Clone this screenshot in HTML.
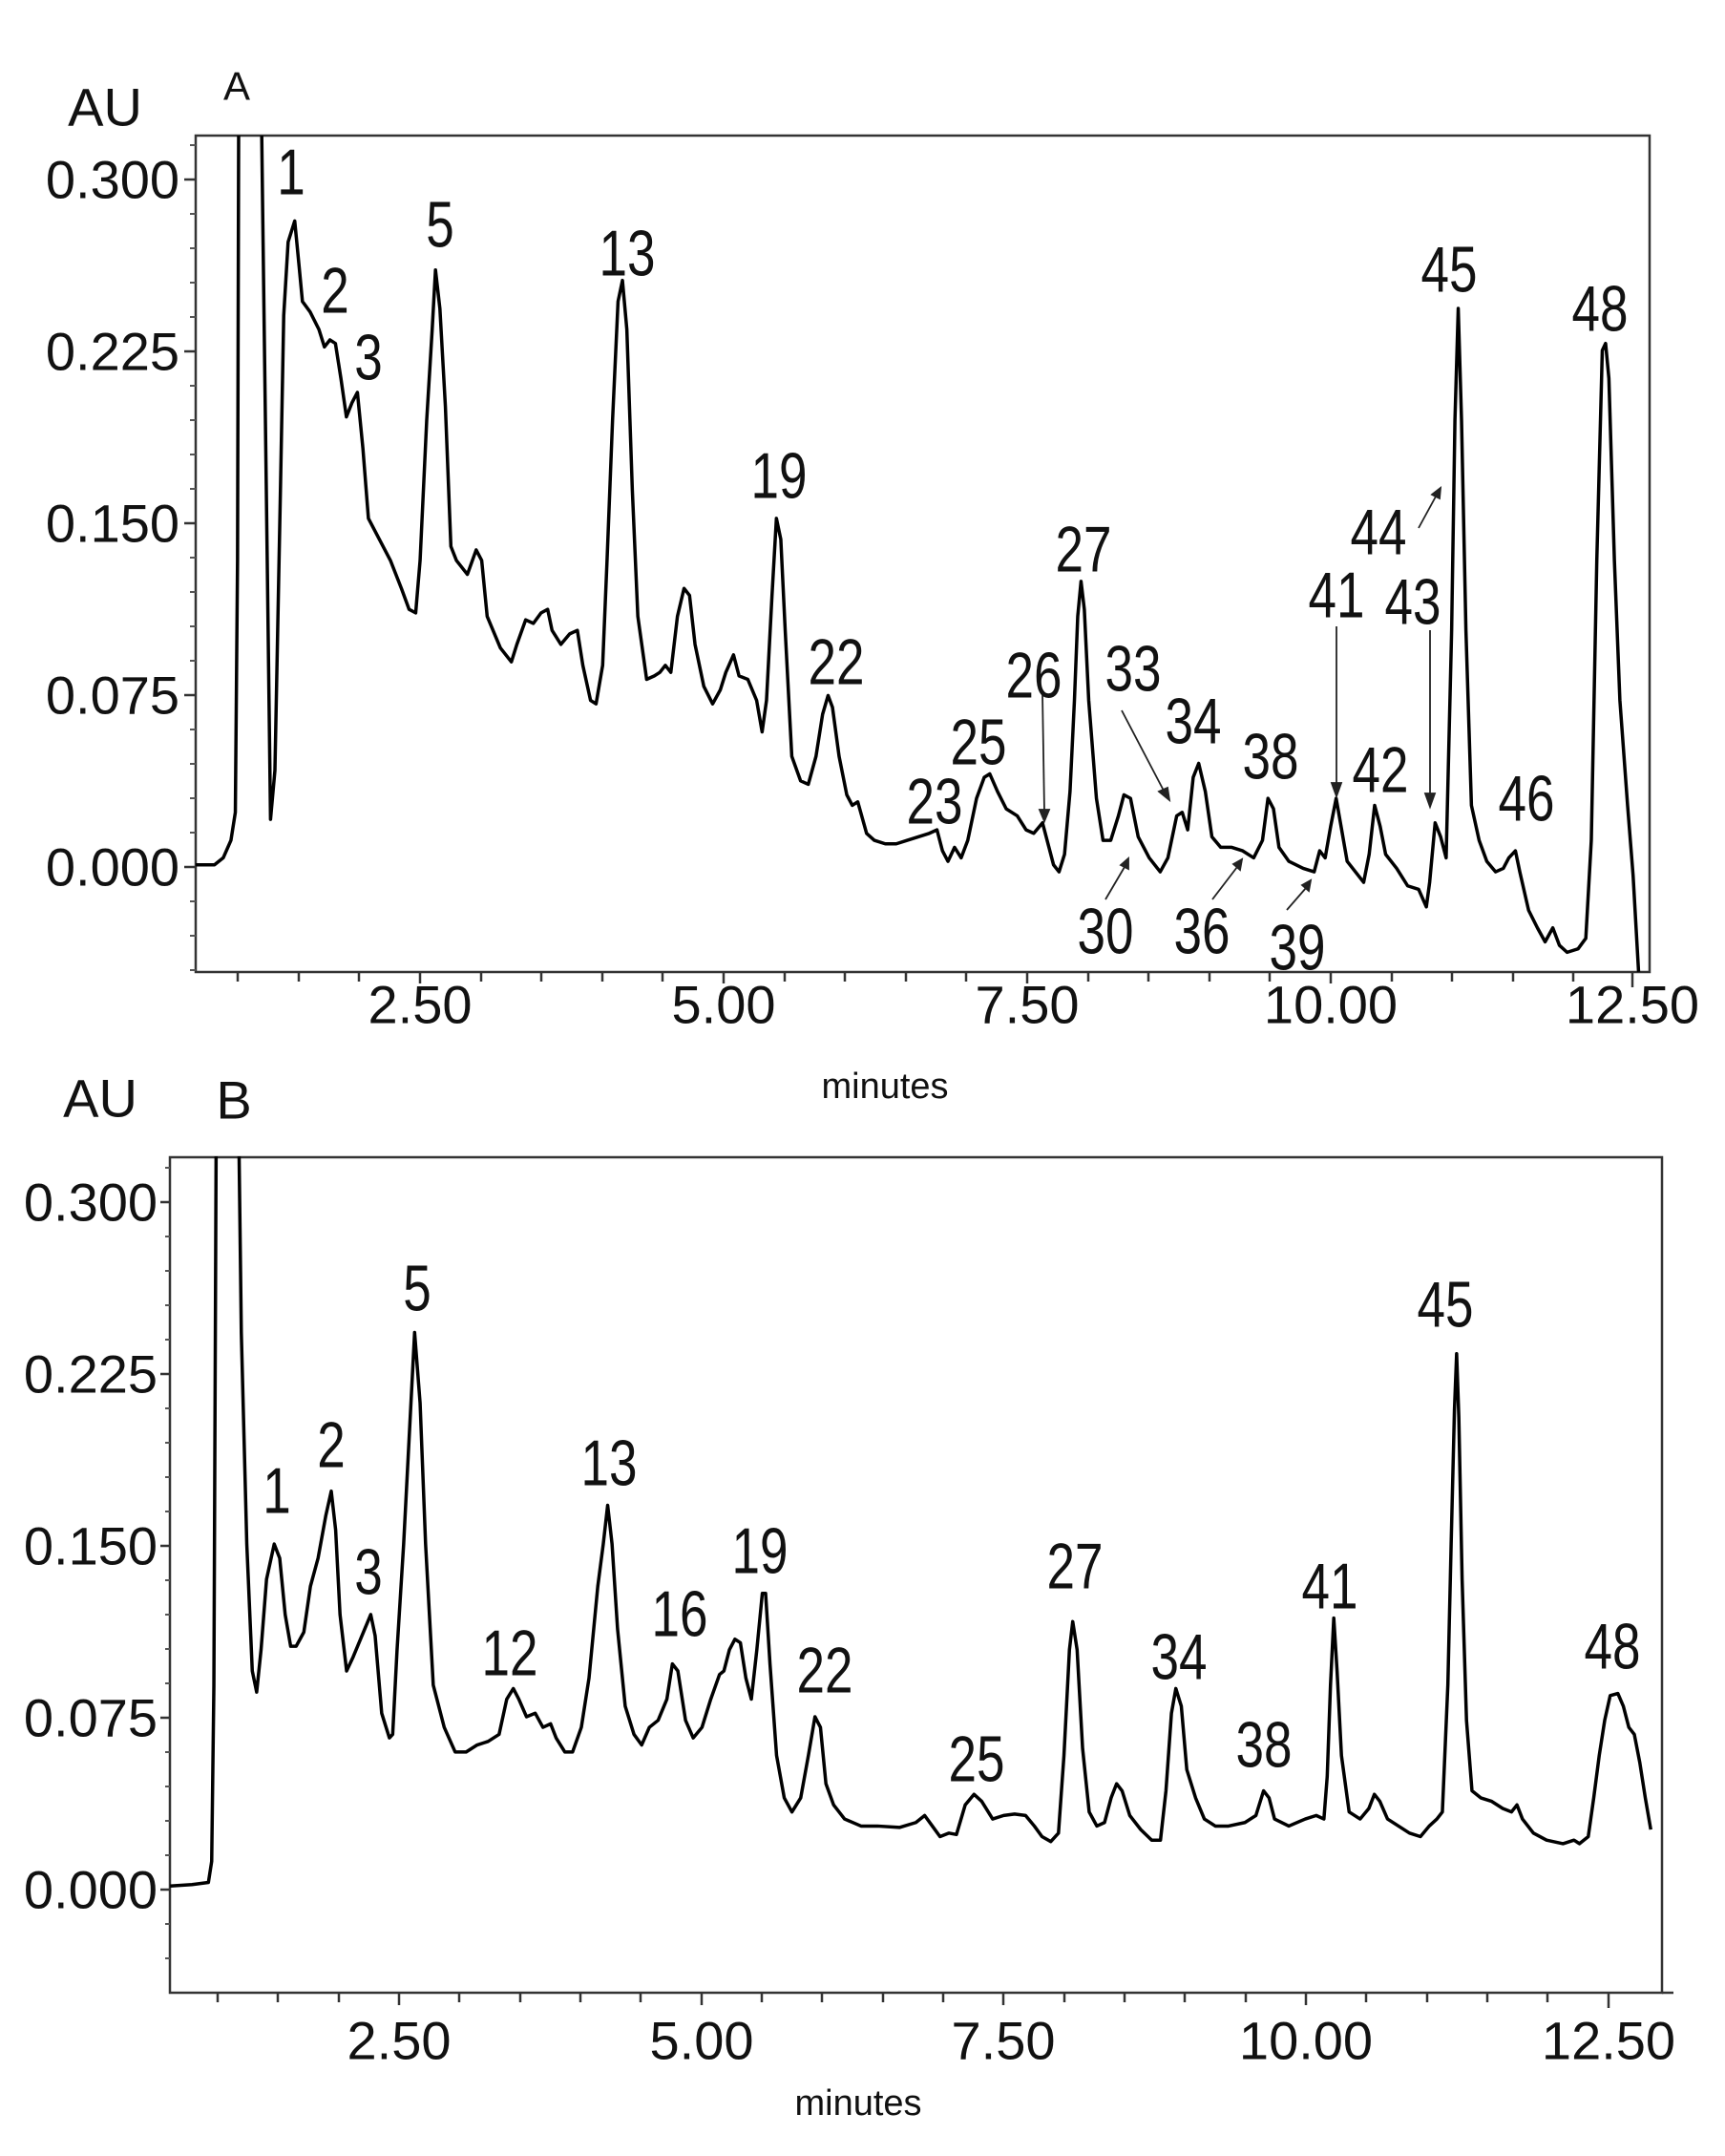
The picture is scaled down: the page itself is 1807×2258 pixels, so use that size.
<!DOCTYPE html>
<html><head><meta charset="utf-8"><style>
html,body{margin:0;padding:0;background:#fff;}
svg{display:block;}
text{font-family:"Liberation Sans",Arial,sans-serif;fill:#111;}
.t{font-size:56px;}
.pl{font-size:68px;}
</style></head><body>
<svg width="1807" height="2258" viewBox="0 0 1807 2258" xmlns="http://www.w3.org/2000/svg">
<!-- ========== PANEL A ========== -->
<rect x="205" y="142" width="1523" height="876" fill="none" stroke="#333" stroke-width="2.5"/>
<g stroke="#333" stroke-width="2.5">
<line x1="193" y1="188" x2="205" y2="188"/><line x1="193" y1="368" x2="205" y2="368"/><line x1="193" y1="548" x2="205" y2="548"/><line x1="193" y1="728" x2="205" y2="728"/><line x1="193" y1="908" x2="205" y2="908"/>
</g>
<g stroke="#555" stroke-width="2">
<line x1="199" y1="152" x2="205" y2="152"/><line x1="199" y1="224" x2="205" y2="224"/><line x1="199" y1="260" x2="205" y2="260"/><line x1="199" y1="296" x2="205" y2="296"/><line x1="199" y1="332" x2="205" y2="332"/>
<line x1="199" y1="404" x2="205" y2="404"/><line x1="199" y1="440" x2="205" y2="440"/><line x1="199" y1="476" x2="205" y2="476"/><line x1="199" y1="512" x2="205" y2="512"/>
<line x1="199" y1="584" x2="205" y2="584"/><line x1="199" y1="620" x2="205" y2="620"/><line x1="199" y1="656" x2="205" y2="656"/><line x1="199" y1="692" x2="205" y2="692"/>
<line x1="199" y1="764" x2="205" y2="764"/><line x1="199" y1="800" x2="205" y2="800"/><line x1="199" y1="836" x2="205" y2="836"/><line x1="199" y1="872" x2="205" y2="872"/>
<line x1="199" y1="944" x2="205" y2="944"/><line x1="199" y1="980" x2="205" y2="980"/><line x1="199" y1="1016" x2="205" y2="1016"/>
</g>
<g stroke="#333" stroke-width="2.5">
<line x1="249" y1="1018" x2="249" y2="1028"/><line x1="313" y1="1018" x2="313" y2="1028"/><line x1="376" y1="1018" x2="376" y2="1028"/><line x1="440" y1="1018" x2="440" y2="1030"/>
<line x1="504" y1="1018" x2="504" y2="1028"/><line x1="567" y1="1018" x2="567" y2="1028"/><line x1="631" y1="1018" x2="631" y2="1028"/><line x1="694" y1="1018" x2="694" y2="1028"/><line x1="758" y1="1018" x2="758" y2="1030"/>
<line x1="822" y1="1018" x2="822" y2="1028"/><line x1="885" y1="1018" x2="885" y2="1028"/><line x1="949" y1="1018" x2="949" y2="1028"/><line x1="1012" y1="1018" x2="1012" y2="1028"/><line x1="1076" y1="1018" x2="1076" y2="1030"/>
<line x1="1140" y1="1018" x2="1140" y2="1028"/><line x1="1203" y1="1018" x2="1203" y2="1028"/><line x1="1267" y1="1018" x2="1267" y2="1028"/><line x1="1330" y1="1018" x2="1330" y2="1028"/><line x1="1394" y1="1018" x2="1394" y2="1030"/>
<line x1="1458" y1="1018" x2="1458" y2="1028"/><line x1="1521" y1="1018" x2="1521" y2="1028"/><line x1="1585" y1="1018" x2="1585" y2="1028"/><line x1="1648" y1="1018" x2="1648" y2="1028"/><line x1="1710" y1="1018" x2="1710" y2="1034"/>
</g>
<g class="t" text-anchor="end" dominant-baseline="central">
<text x="188" y="188">0.300</text><text x="188" y="368">0.225</text><text x="188" y="548">0.150</text><text x="188" y="728">0.075</text><text x="188" y="908">0.000</text>
</g>
<g class="t" text-anchor="middle" dominant-baseline="central">
<text x="440" y="1052">2.50</text><text x="758" y="1052">5.00</text><text x="1076" y="1052">7.50</text><text x="1394" y="1052">10.00</text><text x="1710" y="1052">12.50</text>
</g>
<text x="110" y="112" class="t" text-anchor="middle" dominant-baseline="central">AU</text>
<text x="248" y="90" style="font-size:42px" text-anchor="middle" dominant-baseline="central">A</text>
<text x="927" y="1138" style="font-size:38px" text-anchor="middle" dominant-baseline="central">minutes</text>

<g transform="matrix(1.152,0,0,0.733,0,0.5)" fill="none" stroke="#000" stroke-width="3.5" stroke-linejoin="round">
<polyline vector-effect="non-scaling-stroke" points="178,1235 195,1235 203,1225 210,1200 214,1160 216,800 217,193"/>
<polyline vector-effect="non-scaling-stroke" points="238,193 239,318 243,800 246,1170 250,1100 255,700 258,450 262,345 268,315 272,380 275,430 282,445 290,470 295,495 300,485 305,490 310,540 315,595 320,575 325,560 330,640 335,740 345,770 355,800 365,840 372,870 378,875 382,800 388,600 393,470 396,385 400,440 405,580 410,780 415,800 425,820 433,785 438,800 443,880 455,925 465,945 470,920 478,885 485,890 492,875 498,870 502,900 510,920 518,905 525,900 530,950 537,1000 542,1005 548,950 552,800 557,600 562,430 566,400 570,470 575,700 580,880 588,970 595,965 600,960 605,950 610,960 616,880 622,840 627,850 632,920 640,980 648,1005 655,985 660,960 667,935 672,965 680,970 688,1000 693,1045 697,1000 702,850 706,740 710,770 714,900 720,1080 728,1115 735,1120 742,1080 748,1020 753,993 757,1010 763,1080 770,1135 775,1150 780,1145 788,1190 795,1200 805,1205 815,1205 825,1200 835,1195 845,1190 852,1185 857,1215 862,1230 868,1210 874,1225 880,1200 888,1140 895,1110 900,1105 907,1130 915,1155 925,1165 933,1185 940,1190 948,1175 953,1205 958,1235 963,1245 968,1220 973,1130 977,1000 980,880 983,830 986,870 990,1000 997,1140 1003,1200 1010,1200 1017,1165 1022,1135 1028,1140 1035,1195 1045,1225 1055,1245 1062,1225 1070,1165 1075,1160 1080,1185 1085,1110 1090,1090 1096,1130 1102,1195 1110,1210 1120,1210 1130,1215 1140,1225 1148,1200 1153,1140 1158,1155 1163,1210 1172,1230 1185,1240 1195,1245 1200,1215 1205,1225 1210,1180 1215,1140 1220,1185 1225,1230 1240,1260 1245,1220 1250,1150 1255,1180 1260,1220 1270,1240 1280,1265 1290,1270 1297,1295 1300,1260 1305,1175 1310,1195 1315,1225 1320,900 1323,600 1326,440 1329,600 1333,900 1338,1150 1345,1200 1352,1230 1360,1245 1367,1240 1372,1225 1378,1215 1382,1245 1390,1300 1398,1325 1405,1345 1412,1325 1418,1350 1425,1360 1435,1355 1442,1340 1447,1200 1452,800 1457,500 1460,490 1463,540 1468,800 1473,1000 1480,1150 1485,1250 1490,1388"/>
</g>
<!-- arrows A -->
<g stroke="#222" stroke-width="1.8" fill="#222">
<line x1="1092" y1="726" x2="1094" y2="850"/><polygon points="1089,848 1099,848 1094,860"/>
<line x1="1175" y1="744" x2="1219" y2="828"/><polygon points="1214,829 1223,825 1225,838"/>
<line x1="1158" y1="942" x2="1178" y2="908"/><polygon points="1174,906 1182,910 1182,899"/>
<line x1="1270" y1="942" x2="1296" y2="908"/><polygon points="1292,905 1299,911 1301,900"/>
<line x1="1348" y1="953" x2="1368" y2="930"/><polygon points="1364,927 1371,933 1373,922"/>
<line x1="1400" y1="656" x2="1400" y2="822"/><polygon points="1395,820 1405,820 1400,834"/>
<line x1="1498" y1="660" x2="1498" y2="833"/><polygon points="1493,831 1503,831 1498,845"/>
<line x1="1486" y1="553" x2="1504" y2="520"/><polygon points="1500,518 1508,522 1509,511"/>
</g>
<g class="pl" text-anchor="middle" dominant-baseline="central">
<text transform="translate(305,180) scale(0.78,1)">1</text>
<text transform="translate(351,304) scale(0.78,1)">2</text>
<text transform="translate(386,374) scale(0.78,1)">3</text>
<text transform="translate(461,235) scale(0.78,1)">5</text>
<text transform="translate(657,265) scale(0.78,1)">13</text>
<text transform="translate(816,498) scale(0.78,1)">19</text>
<text transform="translate(876,693) scale(0.78,1)">22</text>
<text transform="translate(979,839) scale(0.78,1)">23</text>
<text transform="translate(1025,777) scale(0.78,1)">25</text>
<text transform="translate(1083,707) scale(0.78,1)">26</text>
<text transform="translate(1135,575) scale(0.78,1)">27</text>
<text transform="translate(1187,700) scale(0.78,1)">33</text>
<text transform="translate(1250,755) scale(0.78,1)">34</text>
<text transform="translate(1331,792) scale(0.78,1)">38</text>
<text transform="translate(1400,623) scale(0.78,1)">41</text>
<text transform="translate(1446,806) scale(0.78,1)">42</text>
<text transform="translate(1480,630) scale(0.78,1)">43</text>
<text transform="translate(1444,557) scale(0.78,1)">44</text>
<text transform="translate(1518,282) scale(0.78,1)">45</text>
<text transform="translate(1599,836) scale(0.78,1)">46</text>
<text transform="translate(1676,323) scale(0.78,1)">48</text>
<text transform="translate(1158,975) scale(0.78,1)">30</text>
<text transform="translate(1259,975) scale(0.78,1)">36</text>
<text transform="translate(1359,992) scale(0.78,1)">39</text>
</g>

<!-- ========== PANEL B ========== -->
<rect x="178" y="1212" width="1563" height="875" fill="none" stroke="#333" stroke-width="2.5"/>
<g stroke="#333" stroke-width="2.5">
<line x1="168" y1="1259" x2="178" y2="1259"/><line x1="168" y1="1439" x2="178" y2="1439"/><line x1="168" y1="1619" x2="178" y2="1619"/><line x1="168" y1="1799" x2="178" y2="1799"/><line x1="168" y1="1979" x2="178" y2="1979"/>
</g>
<g stroke="#555" stroke-width="2">
<line x1="173" y1="1223" x2="178" y2="1223"/><line x1="173" y1="1295" x2="178" y2="1295"/><line x1="173" y1="1331" x2="178" y2="1331"/><line x1="173" y1="1367" x2="178" y2="1367"/><line x1="173" y1="1403" x2="178" y2="1403"/>
<line x1="173" y1="1475" x2="178" y2="1475"/><line x1="173" y1="1511" x2="178" y2="1511"/><line x1="173" y1="1547" x2="178" y2="1547"/><line x1="173" y1="1583" x2="178" y2="1583"/>
<line x1="173" y1="1655" x2="178" y2="1655"/><line x1="173" y1="1691" x2="178" y2="1691"/><line x1="173" y1="1727" x2="178" y2="1727"/><line x1="173" y1="1763" x2="178" y2="1763"/>
<line x1="173" y1="1835" x2="178" y2="1835"/><line x1="173" y1="1871" x2="178" y2="1871"/><line x1="173" y1="1907" x2="178" y2="1907"/><line x1="173" y1="1943" x2="178" y2="1943"/>
<line x1="173" y1="2015" x2="178" y2="2015"/><line x1="173" y1="2051" x2="178" y2="2051"/>
</g>
<g stroke="#333" stroke-width="2.5">
<line x1="228" y1="2087" x2="228" y2="2097"/><line x1="291" y1="2087" x2="291" y2="2097"/><line x1="355" y1="2087" x2="355" y2="2097"/><line x1="418" y1="2087" x2="418" y2="2100"/>
<line x1="481" y1="2087" x2="481" y2="2097"/><line x1="545" y1="2087" x2="545" y2="2097"/><line x1="608" y1="2087" x2="608" y2="2097"/><line x1="671" y1="2087" x2="671" y2="2097"/><line x1="735" y1="2087" x2="735" y2="2100"/>
<line x1="798" y1="2087" x2="798" y2="2097"/><line x1="861" y1="2087" x2="861" y2="2097"/><line x1="925" y1="2087" x2="925" y2="2097"/><line x1="988" y1="2087" x2="988" y2="2097"/><line x1="1051" y1="2087" x2="1051" y2="2100"/>
<line x1="1115" y1="2087" x2="1115" y2="2097"/><line x1="1178" y1="2087" x2="1178" y2="2097"/><line x1="1241" y1="2087" x2="1241" y2="2097"/><line x1="1305" y1="2087" x2="1305" y2="2097"/><line x1="1368" y1="2087" x2="1368" y2="2100"/>
<line x1="1431" y1="2087" x2="1431" y2="2097"/><line x1="1495" y1="2087" x2="1495" y2="2097"/><line x1="1558" y1="2087" x2="1558" y2="2097"/><line x1="1621" y1="2087" x2="1621" y2="2097"/><line x1="1685" y1="2087" x2="1685" y2="2103"/>
<line x1="1741" y1="2087" x2="1753" y2="2087"/>
</g>
<g class="t" text-anchor="end" dominant-baseline="central">
<text x="165" y="1259">0.300</text><text x="165" y="1439">0.225</text><text x="165" y="1619">0.150</text><text x="165" y="1799">0.075</text><text x="165" y="1979">0.000</text>
</g>
<g class="t" text-anchor="middle" dominant-baseline="central">
<text x="418" y="2137">2.50</text><text x="735" y="2137">5.00</text><text x="1051" y="2137">7.50</text><text x="1368" y="2137">10.00</text><text x="1685" y="2137">12.50</text>
</g>
<text x="105" y="1150" class="t" text-anchor="middle" dominant-baseline="central">AU</text>
<text x="245" y="1152" class="t" text-anchor="middle" dominant-baseline="central">B</text>
<text x="899" y="2203" style="font-size:38px" text-anchor="middle" dominant-baseline="central">minutes</text>

<g transform="matrix(1.149,0,0,0.7384,0,1100.2)" fill="none" stroke="#000" stroke-width="3.5" stroke-linejoin="round">
<polyline vector-effect="non-scaling-stroke" points="155,1185 175,1183 190,1180 193,1150 195,900 197,150"/>
<polyline vector-effect="non-scaling-stroke" points="218,150 220,400 225,700 230,880 234,910 238,850 243,750 250,700 255,720 260,800 265,845 270,845 277,825 283,760 290,720 297,660 302,625 306,680 310,800 316,880 322,860 330,830 338,800 342,830 348,940 355,975 358,970 362,850 368,700 373,550 378,400 383,500 388,700 395,900 405,960 415,995 425,995 435,985 445,980 455,970 462,920 468,905 473,920 480,945 488,940 495,960 502,955 507,975 515,995 522,995 530,960 537,890 545,760 550,700 554,645 558,700 563,820 570,930 578,970 585,985 592,960 600,950 608,920 613,870 618,880 625,950 632,975 640,960 648,920 656,885 660,880 665,850 670,835 675,840 680,890 685,920 690,850 695,770 698,770 702,870 708,1000 715,1060 722,1080 730,1060 737,1000 743,945 748,960 753,1040 760,1070 770,1090 785,1100 800,1100 820,1102 835,1095 843,1085 850,1100 857,1115 865,1110 872,1112 880,1070 888,1055 895,1065 905,1090 915,1085 925,1083 935,1085 943,1100 950,1115 958,1122 965,1110 970,1000 975,850 978,810 982,850 987,990 993,1080 1000,1100 1007,1095 1013,1060 1018,1040 1023,1050 1030,1085 1040,1105 1050,1120 1058,1120 1063,1050 1068,940 1072,905 1077,930 1082,1020 1090,1060 1098,1090 1108,1100 1120,1100 1135,1095 1145,1085 1152,1050 1157,1060 1162,1090 1175,1100 1190,1090 1200,1085 1207,1090 1210,1030 1213,900 1216,805 1219,880 1223,1000 1230,1080 1240,1090 1248,1075 1253,1055 1258,1065 1265,1090 1275,1100 1285,1110 1295,1115 1303,1100 1310,1090 1315,1080 1320,900 1323,700 1326,510 1328,430 1330,520 1333,750 1337,950 1342,1050 1350,1060 1360,1065 1370,1075 1378,1080 1383,1070 1388,1090 1398,1110 1410,1120 1425,1125 1435,1120 1440,1125 1448,1115 1453,1060 1458,1000 1463,950 1468,915 1475,912 1480,930 1485,960 1490,970 1495,1010 1500,1060 1505,1105"/>
</g>
<g class="pl" text-anchor="middle" dominant-baseline="central">
<text transform="translate(290,1561) scale(0.78,1)">1</text>
<text transform="translate(347,1513) scale(0.78,1)">2</text>
<text transform="translate(386,1646) scale(0.78,1)">3</text>
<text transform="translate(437,1349) scale(0.78,1)">5</text>
<text transform="translate(534,1731) scale(0.78,1)">12</text>
<text transform="translate(638,1532) scale(0.78,1)">13</text>
<text transform="translate(712,1690) scale(0.78,1)">16</text>
<text transform="translate(796,1624) scale(0.78,1)">19</text>
<text transform="translate(864,1749) scale(0.78,1)">22</text>
<text transform="translate(1023,1842) scale(0.78,1)">25</text>
<text transform="translate(1126,1640) scale(0.78,1)">27</text>
<text transform="translate(1235,1735) scale(0.78,1)">34</text>
<text transform="translate(1324,1827) scale(0.78,1)">38</text>
<text transform="translate(1393,1661) scale(0.78,1)">41</text>
<text transform="translate(1514,1366) scale(0.78,1)">45</text>
<text transform="translate(1689,1724) scale(0.78,1)">48</text>
</g>
</svg>
</body></html>
